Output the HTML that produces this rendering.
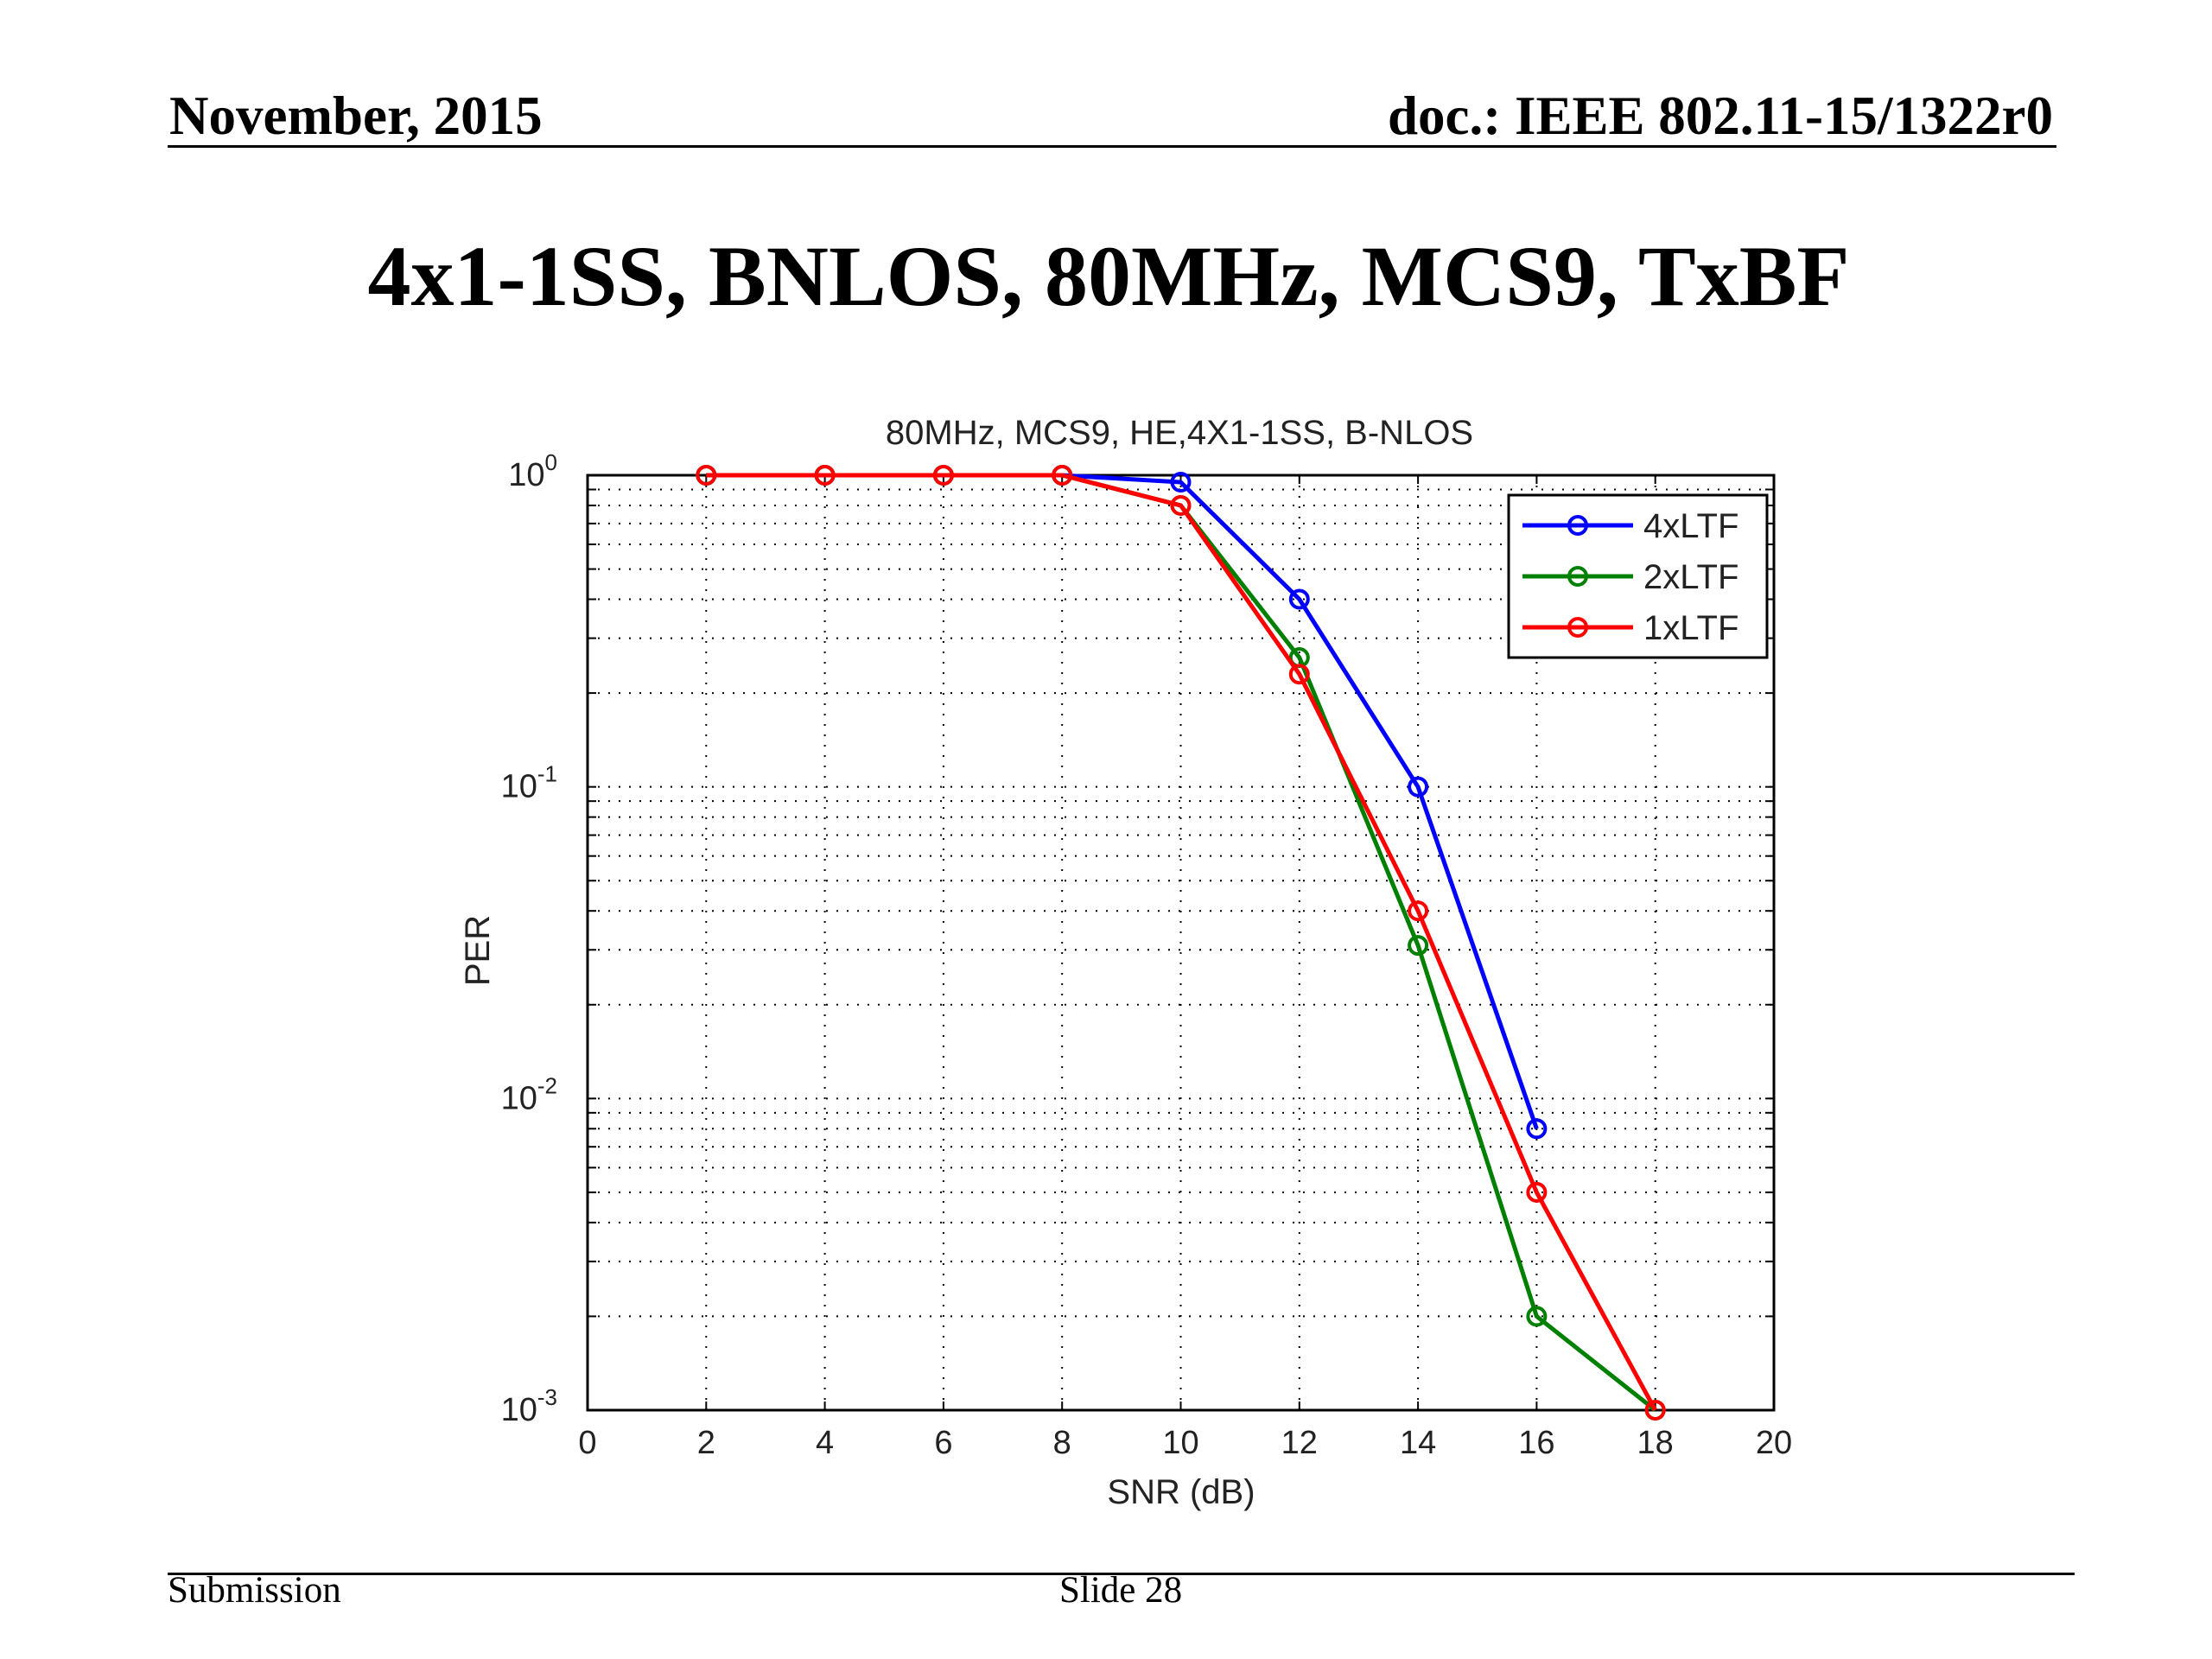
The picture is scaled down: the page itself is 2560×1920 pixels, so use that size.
<!DOCTYPE html>
<html><head><meta charset="utf-8"><style>
body{margin:0;width:2560px;height:1920px;background:#fff;overflow:hidden;position:relative;font-family:"Liberation Serif",serif}
.t{position:absolute;white-space:nowrap;color:#000}
</style></head><body>
<div class="t" style="left:196px;top:98px;font-size:63px;font-weight:bold">November, 2015</div>
<div class="t" style="right:184px;top:98px;font-size:63px;font-weight:bold">doc.: IEEE 802.11-15/1322r0</div>
<div style="position:absolute;left:194px;top:168px;width:2186px;height:3px;background:#000"></div>
<div class="t" style="left:0;width:2566px;text-align:center;top:262px;font-size:100px;font-weight:bold">4x1-1SS, BNLOS, 80MHz, MCS9, TxBF</div>
<div style="position:absolute;left:194px;top:1820px;width:2207px;height:3px;background:#000"></div>
<div class="t" style="left:194px;top:1816px;font-size:43px">Submission</div>
<div class="t" style="left:1226px;top:1816px;font-size:43px">Slide 28</div>
<svg id="chart" width="2560" height="1920" style="position:absolute;left:0;top:0" font-family="Liberation Sans, sans-serif"></svg>
<script>
const snr=[0,2,4,6,8,10,12,14,16,18];
const names=["4xLTF","2xLTF","1xLTF"];
const colors=["#0000ff","#008000","#ff0000"];
const perBlue=[null,1,1,1,1,0.95,0.4,0.1,0.008,null];
const perGreen=[null,1,1,1,1,0.8,0.26,0.031,0.002,0.001];
const perRed=[null,1,1,1,1,0.8,0.23,0.04,0.005,0.001];
const xTicks=[0,2,4,6,8,10,12,14,16,18,20];
const yExps=[0,-1,-2,-3];
const series=[perBlue,perGreen,perRed];
const L=680,R=2053,T=550,B=1632;
const X=v=>L+(v-0)/20*(R-L);
const Y=v=>T+(0-Math.log10(v))/3*(B-T);
const NS="http://www.w3.org/2000/svg";
const svg=document.getElementById('chart');
function mk(tag,at,parent){const e=document.createElementNS(NS,tag);for(const k in at)e.setAttribute(k,at[k]);(parent||svg).appendChild(e);return e;}
for(const t of xTicks){if(t>0&&t<20){const g=mk('line',{x1:X(t),x2:X(t),y1:T,y2:B,stroke:'#000','stroke-width':2,'stroke-dasharray':'2 10'});

}}
for(let d=-3;d<0;d++){for(let m=1;m<10;m++){const v=m*Math.pow(10,d);if(v<=0.001)continue;const g=mk('line',{x1:L,x2:R,y1:Y(v),y2:Y(v),stroke:'#000','stroke-width':2,'stroke-dasharray':'2 10'});


mk('line',{x1:L,x2:L+10,y1:Y(v),y2:Y(v),stroke:'#000','stroke-width':2});mk('line',{x1:R-10,x2:R,y1:Y(v),y2:Y(v),stroke:'#000','stroke-width':2});}}
const frame=mk('rect',{x:L,y:T,width:R-L,height:B-T,fill:'none',stroke:'#000','stroke-width':3});


for(const t of xTicks){const tx=mk('text',{x:X(t),y:B+50,'text-anchor':'middle','font-size':38,fill:'#222'});tx.textContent=t;


mk('line',{x1:X(t),x2:X(t),y1:B,y2:B-10,stroke:'#000','stroke-width':2});mk('line',{x1:X(t),x2:X(t),y1:T,y2:T+10,stroke:'#000','stroke-width':2});}
for(const e of yExps){const tx=mk('text',{x:645,y:Y(Math.pow(10,e))+12,'text-anchor':'end','font-size':38,fill:'#222'});tx.textContent='10';


const s=mk('tspan',{dy:-18,'font-size':26},tx);s.textContent=e;}
const xt=mk('text',{x:1367,y:1740,'text-anchor':'middle','font-size':40,fill:'#222'});xt.textContent='SNR (dB)';


const yt=mk('text',{x:566,y:1100,'text-anchor':'middle','font-size':40,fill:'#222',transform:'rotate(-90 566 1100)'});yt.textContent='PER';


const ct=mk('text',{x:1365,y:514,'text-anchor':'middle','font-size':40,fill:'#222'});ct.textContent='80MHz, MCS9, HE,4X1-1SS, B-NLOS';


series.forEach((arr,i)=>{const pts=[];arr.forEach((v,j)=>{if(v!=null)pts.push([X(snr[j]),Y(v)]);});
const pl=mk('polyline',{points:pts.map(p=>p.join(',')).join(' '),fill:'none',stroke:colors[i],'stroke-width':5});


pts.forEach(p=>{const c=mk('circle',{cx:p[0],cy:p[1],r:10,fill:'none',stroke:colors[i],'stroke-width':4});

});});
const lg=mk('rect',{x:1746,y:573,width:299,height:188,fill:'#fff',stroke:'#000','stroke-width':3});


names.forEach((n,i)=>{const y=608+i*59;mk('line',{x1:1762,x2:1890,y1:y,y2:y,stroke:colors[i],'stroke-width':5});mk('circle',{cx:1826,cy:y,r:10,fill:'none',stroke:colors[i],'stroke-width':4});
const t=mk('text',{x:1902,y:y+14,'font-size':40,fill:'#222'});t.textContent=n;

});
</script>
</body></html>
